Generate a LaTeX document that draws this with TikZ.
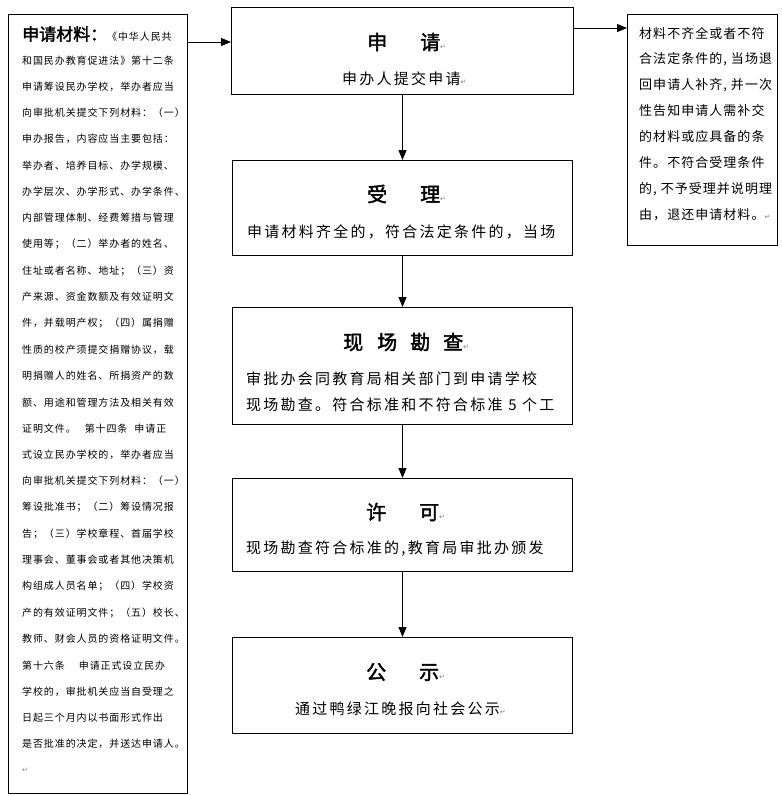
\documentclass[tikz,border=0pt]{standalone}
\usepackage{fontspec}
\setmainfont{Noto Sans CJK SC}
\newfontfamily\cjkL{Noto Sans CJK SC}[LetterSpace=9]
\newfontfamily\cjkM{Noto Sans CJK SC}[LetterSpace=15]
\newfontfamily\cjkR{Noto Sans CJK SC}[LetterSpace=8]
\newfontfamily\cjkT{Noto Sans CJK SC}[FakeBold=2]
\newfontfamily\symf{DejaVu Sans}
\usetikzlibrary{arrows.meta}
\newcommand\pmark{{\symf\fontsize{7}{7}\selectfont\color{gray}↵}}
\tikzset{
  box/.style={draw, line width=1pt, inner sep=0pt, anchor=north west},
  conn/.style={line width=1pt, -{Triangle[length=10pt,width=8pt]}},
  ttl/.style={inner sep=0pt, anchor=west, font=\cjkT\fontsize{20}{20}\selectfont},
  body/.style={inner sep=0pt, anchor=west, font=\cjkM\fontsize{15}{15}\selectfont},
  ltxt/.style={inner sep=0pt, anchor=west, font=\cjkL\fontsize{10}{10}\selectfont},
  rtxt/.style={inner sep=0pt, anchor=west, font=\cjkR\fontsize{13}{13}\selectfont}
}
\begin{document}
\begin{tikzpicture}[x=1pt,y=-1pt]
\useasboundingbox[fill=white] (0,0) rectangle (782,796);

% boxes
\node[box, minimum width=179pt, minimum height=779pt] (L) at (8,14) {};
\node[box, minimum width=342pt, minimum height=87pt] (b1) at (231,7) {};
\node[box, minimum width=340pt, minimum height=95pt] (b2) at (232,160) {};
\node[box, minimum width=340pt, minimum height=117pt] (b3) at (232,307) {};
\node[box, minimum width=340pt, minimum height=93pt] (b4) at (232,478) {};
\node[box, minimum width=340pt, minimum height=96pt] (b5) at (232,637) {};
\node[box, minimum width=150pt, minimum height=231pt] (R) at (627,14) {};

% connectors
\coordinate (a1) at (187,42);
\draw[conn] (a1) -- (a1 -| b1.west);
\coordinate (a2) at (573,28);
\draw[conn] (a2) -- (a2 -| R.west);
\draw[conn] (b1.south) -- (b2.north);
\draw[conn] (b2.south) -- (b3.north);
\draw[conn] (b3.south) -- (b4.north);
\draw[conn] (b4.south) -- (b5.north);

% center boxes text
\node[ttl] (t1) at (367,42) {申\hspace{33pt}请\pmark};
\node[body] (s1) at (342,79) {申办人提交申请\pmark};
\node[ttl] (t2) at (367,194) {受\hspace{33pt}理\pmark};
\node[body] (s2) at (247,232) {申请材料齐全的，符合法定条件的，当场};
\node[ttl] (t3) at (343,342) {现\hspace{14pt}场\hspace{13pt}勘\hspace{13pt}查\pmark};
\node[body] (s3a) at (246,379) {审批办会同教育局相关部门到申请学校};
\node[body] (s3b) at (246,405) {现场勘查。符合标准和不符合标准 5 个工};
\node[ttl] (t4) at (366,512) {许\hspace{33pt}可\pmark};
\node[body] (s4) at (246,549) {现场勘查符合标准的,教育局审批办颁发};
\node[ttl] (t5) at (366,672) {公\hspace{33pt}示\pmark};
\node[body] (s5) at (295,709) {通过鸭绿江晚报向社会公示\pmark};

% right box text
\foreach \txt [count=\i] in {材料不齐全或者不符,{合法定条件的, 当场退},{回申请人补齐, 并一次},性告知申请人需补交,的材料或应具备的条,件。不符合受理条件,{的, 不予受理并说明理},由，退还申请材料。\pmark}
  \node[rtxt] (r\i) at (639,{33+26*(\i-1)}) {\txt};

% left box text
\node[inner sep=0pt, anchor=west] (l1) at (22,34) {{\cjkT\fontsize{17}{17}\selectfont 申请材料：}{\cjkL\fontsize{10}{10}\selectfont《中华人民共}};
\foreach \txt [count=\i from 2] in {
和国民办教育促进法》第十二条,
申请筹设民办学校，举办者应当,
向审批机关提交下列材料：（一）,
申办报告，内容应当主要包括：,
举办者、培养目标、办学规模、,
办学层次、办学形式、办学条件、,
内部管理体制、经费筹措与管理,
使用等；（二）举办者的姓名、,
住址或者名称、地址；（三）资,
产来源、资金数额及有效证明文,
件，并载明产权；（四）属捐赠,
性质的校产须提交捐赠协议，载,
明捐赠人的姓名、所捐资产的数,
额、用途和管理方法及相关有效,
证明文件。\hspace{9pt}第十四条\hspace{7pt}申请正,
式设立民办学校的，举办者应当,
向审批机关提交下列材料：（一）,
筹设批准书；（二）筹设情况报,
告；（三）学校章程、首届学校,
理事会、董事会或者其他决策机,
构组成人员名单；（四）学校资,
产的有效证明文件；（五）校长、,
教师、财会人员的资格证明文件。,
第十六条\hspace{14pt}申请正式设立民办,
学校的，审批机关应当自受理之,
日起三个月内以书面形式作出,
是否批准的决定，并送达申请人。,
\pmark}
  \node[ltxt] (l\i) at (22,{34+26.3*(\i-2)+26.3}) {\txt};
\end{tikzpicture}
\end{document}
